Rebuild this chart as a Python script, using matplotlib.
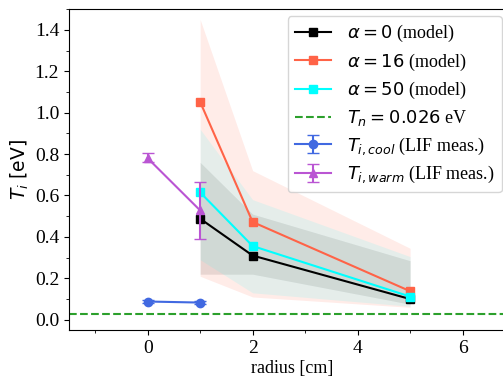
import matplotlib
matplotlib.use("Agg")
import matplotlib.pyplot as plt
from matplotlib.ticker import AutoMinorLocator

plt.rcParams['font.family'] = ['Liberation Serif', 'DejaVu Serif']
plt.rcParams['mathtext.fontset'] = 'dejavusans'
plt.rcParams['font.size'] = 13

# model results
r_model = [1, 2, 5]
ti_a0 = [0.488, 0.31, 0.10]
ti_a16 = [1.052, 0.472, 0.138]
ti_a50 = [0.615, 0.356, 0.112]

# uncertainty bands (low, high)
a0_lo = [0.22, 0.22, 0.075]
a0_hi = [0.76, 0.51, 0.285]
a16_lo = [0.21, 0.11, 0.06]
a16_hi = [1.45, 0.72, 0.345]
a50_lo = [0.29, 0.13, 0.065]
a50_hi = [0.92, 0.58, 0.305]

# LIF measurements
r_lif = [0, 1]
ti_cool = [0.088, 0.083]
cool_err = [0.006, 0.006]
ti_warm = [0.78, 0.528]
warm_err_lo = [0.02, 0.137]
warm_err_hi = [0.027, 0.137]

t_n = 0.026

y_ticks = [0.0, 0.2, 0.4, 0.6, 0.8, 1.0, 1.2, 1.4]
x_ticks = [0, 2, 4, 6]

fig = plt.figure(figsize=(5.03, 3.79), dpi=100)
ax = fig.add_axes([0.137, 0.129, 0.887, 0.847])

ax.fill_between(r_model, a0_lo, a0_hi, color='black', alpha=0.1, lw=0)
ax.fill_between(r_model, a16_lo, a16_hi, color='tomato', alpha=0.12, lw=0)
ax.fill_between(r_model, a50_lo, a50_hi, color='cyan', alpha=0.1, lw=0)

h0, = ax.plot(r_model, ti_a0, '-s', color='black', ms=6, lw=1.5, label=r'$\alpha = 0$ (model)')
h16, = ax.plot(r_model, ti_a16, '-s', color='tomato', ms=6, lw=1.5, label=r'$\alpha = 16$ (model)')
h50, = ax.plot(r_model, ti_a50, '-s', color='cyan', ms=6, lw=1.5, label=r'$\alpha = 50$ (model)')
hn = ax.axhline(t_n, color='tab:green', ls='--', lw=1.5, label=r'$T_n = 0.026$ eV')

hc = ax.errorbar(r_lif, ti_cool, yerr=cool_err, fmt='-o', color='royalblue', ms=6,
                 lw=1.5, capsize=4, label=r'$T_{i,cool}$ (LIF meas.)')
hw = ax.errorbar(r_lif, ti_warm, yerr=[warm_err_lo, warm_err_hi], fmt='-^', color='mediumorchid',
                 ms=6, lw=1.5, capsize=4, label=r'$T_{i,warm}$ (LIF meas.)')

ax.set_xlim(-1.5, 7.0)
ax.set_ylim(-0.05, 1.5)
ax.set_xticks(x_ticks)
ax.set_yticks(y_ticks)
ax.xaxis.set_minor_locator(AutoMinorLocator(2))
ax.yaxis.set_minor_locator(AutoMinorLocator(2))
ax.tick_params(labelsize=14)
ax.set_xlabel('radius [cm]', fontsize=13, labelpad=2)
ax.set_ylabel(r'$T_i$ [eV]', family='DejaVu Sans', fontsize=13.5, labelpad=3)

ax.legend(handles=[h0, h16, h50, hn, hc, hw], loc='upper right',
          bbox_to_anchor=(502 / 503, 1 - 16 / 379), bbox_transform=fig.transFigure,
          borderaxespad=0, fontsize=13, labelspacing=0.4, handletextpad=0.9)

fig.savefig('out.png', dpi=100)
